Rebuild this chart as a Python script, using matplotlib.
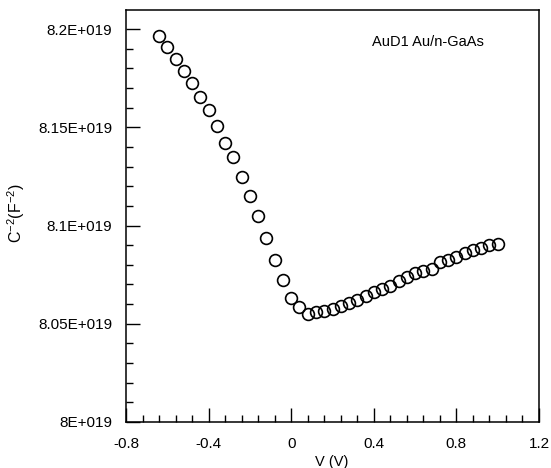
import numpy as np
import matplotlib
matplotlib.use("Agg")
import matplotlib.pyplot as plt
from matplotlib.ticker import MultipleLocator, FuncFormatter

plt.rcParams['font.family'] = ['Liberation Sans', 'DejaVu Sans']
plt.rcParams['mathtext.fontset'] = 'custom'
plt.rcParams['mathtext.rm'] = 'Liberation Sans'

# Data
voltage = [-0.64, -0.60, -0.56, -0.52, -0.48, -0.44, -0.40, -0.36, -0.32, -0.28,
           -0.24, -0.20, -0.16, -0.12, -0.08, -0.04, 0.00,
           0.04, 0.08, 0.12, 0.16, 0.20, 0.24, 0.28, 0.32, 0.36, 0.40,
           0.44, 0.48, 0.52, 0.56, 0.60, 0.64, 0.68, 0.72, 0.76, 0.80,
           0.84, 0.88, 0.92, 0.96, 1.00]
c2_e19 = [8.1965, 8.1909, 8.1848, 8.1785, 8.1723, 8.1653, 8.1589, 8.1506, 8.1421, 8.1349,
          8.1248, 8.1151, 8.1049, 8.0938, 8.0824, 8.0721, 8.0632,
          8.0585, 8.0548, 8.0560, 8.0565, 8.0575, 8.0588, 8.0607, 8.0622, 8.0642, 8.0663,
          8.0675, 8.0692, 8.0719, 8.0739, 8.0759, 8.0767, 8.0778, 8.0812, 8.0824, 8.0841,
          8.0858, 8.0875, 8.0887, 8.0900, 8.0904]
c2 = np.array(c2_e19) * 1e19

fig = plt.figure(figsize=(5.51, 4.68), dpi=100)
ax = fig.add_axes([0.2287, 0.0983, 0.7495, 0.8803])

ax.plot(voltage, c2, linestyle="none", marker="o", markersize=8.5,
        markerfacecolor="none", markeredgecolor="black", markeredgewidth=1.2)

ax.set_xlim(-0.8, 1.2)
ax.set_ylim(8.0e19, 8.2097e19)

ax.xaxis.set_major_locator(MultipleLocator(0.4))
ax.xaxis.set_minor_locator(MultipleLocator(0.08))
ax.yaxis.set_major_locator(MultipleLocator(0.05e19))
ax.yaxis.set_minor_locator(MultipleLocator(0.01e19))

ax.xaxis.set_major_formatter(FuncFormatter(lambda v, p: f"{round(v, 2):g}"))
ax.yaxis.set_major_formatter(FuncFormatter(lambda v, p: f"{round(v / 1e19, 3):g}E+019"))

ax.tick_params(which="both", direction="in", top=False, right=False,
               width=1.0, labelsize=11)
ax.tick_params(axis="x", which="major", length=10, pad=11)
ax.tick_params(axis="y", which="major", length=10, pad=10)
ax.tick_params(which="minor", length=5)
for s in ax.spines.values():
    s.set_linewidth(1.1)

ax.set_xlabel("V (V)", fontsize=10.5, va="top")
ax.xaxis.set_label_coords(0.499, -0.081)
ax.set_ylabel("C$^{-2}$(F$^{-2}$)", fontsize=11.5, va="center")
ax.yaxis.set_label_coords(-0.266, 0.507)

ax.text(0.731, 0.922, "AuD1 Au/n-GaAs", transform=ax.transAxes,
        ha="center", va="center", fontsize=10.5)

fig.savefig("out.png", dpi=100)
